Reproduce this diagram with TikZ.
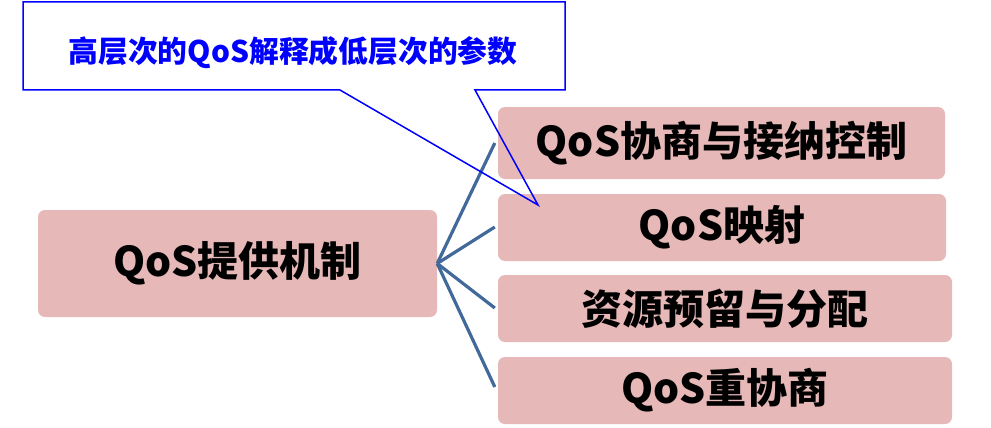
\documentclass[tikz,border=0pt]{standalone}
\usepackage{fontspec}
\setmainfont{Noto Sans CJK SC}
\usetikzlibrary{calc}
\definecolor{boxpink}{HTML}{E6B8B7}
\definecolor{linkblue}{HTML}{41699A}
\definecolor{calloutblue}{HTML}{0000FF}
\begin{document}
\begin{tikzpicture}[x=1pt,y=-1pt,
  item/.style={fill=boxpink,draw=none,rounded corners=7pt,inner sep=0pt,
    font=\fontsize{41}{45}\selectfont\bfseries,text=black},
  link/.style={draw=linkblue,line width=3.2pt},
  callout/.style={draw=calloutblue,line width=1.5pt,line join=miter},
  callouttext/.style={font=\fontsize{29.8}{33}\selectfont\bfseries,text=calloutblue,inner sep=0pt}]
\useasboundingbox (0,0) rectangle (991,428);
% main node
\node[item,minimum width=399pt,minimum height=107pt] (main) at (237.5,263.5) {QoS提供机制};
% right boxes
\node[item,minimum width=447pt,minimum height=72pt] (b1) at (721.5,143) {QoS协商与接纳控制};
\node[item,minimum width=448pt,minimum height=67pt] (b2) at (722,227.5) {QoS映射};
\node[item,minimum width=454pt,minimum height=67pt] (b3) at (725,308.5) {资源预留与分配};
\node[item,minimum width=454pt,minimum height=67pt] (b4) at (725,390.5) {QoS重协商};
% connectors
\foreach \b/\y in {b1/143,b2/227,b3/308,b4/387}
  \draw[link] (main.east) -- ([xshift=-3pt]\b.west |- 0,\y);
% callout
\node[callouttext] (note) at (293,53) {高层次的QoS解释成低层次的参数};
\coordinate (tip) at (538,205);
\draw[callout] (23,2) -- (565,2) -- (565,90) -- (475,90) -- (tip) -- (340,90) -- (23,90) -- cycle;
\end{tikzpicture}
\end{document}
